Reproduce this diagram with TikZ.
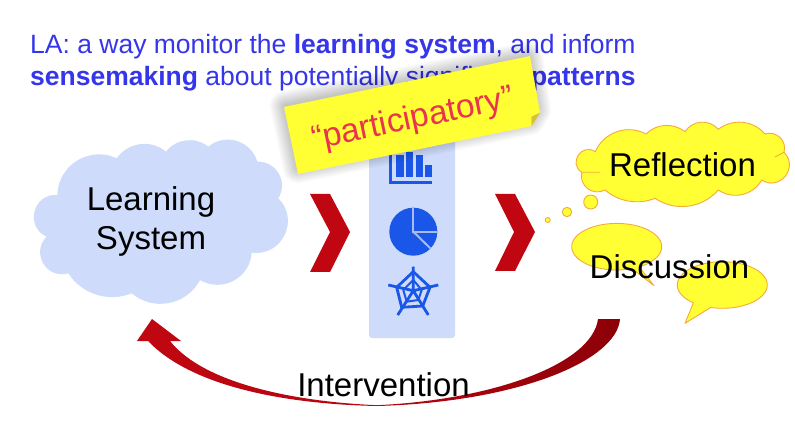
\documentclass[tikz,border=0pt]{standalone}
\usepackage{fontspec}
\setmainfont{Liberation Sans}
\definecolor{headblue}{HTML}{3535EA}
\definecolor{paleblue}{HTML}{CEDBFA}
\definecolor{iconblue}{HTML}{1A56E8}
\definecolor{gapblue}{HTML}{A9BBE6}
\definecolor{chevred}{HTML}{C00711}
\definecolor{darkred}{HTML}{8C0008}
\definecolor{noteyellow}{HTML}{FFFF33}
\definecolor{foldyellow}{HTML}{D8C22E}
\definecolor{notered}{HTML}{E8344F}
\definecolor{edgeorange}{HTML}{F6A93B}
\tikzset{
  chevron/.style={fill=chevred,draw=none},
  bubble/.style={fill=noteyellow,draw=edgeorange,line width=0.9pt,line join=round},
  crease/.style={draw=edgeorange,line width=0.9pt},
  lobe/.code={\pgfmathsetmacro\lobeang{2*atan(2*#1)}\pgfmathsetmacro\lobeloose{.851*(1+4*#1*#1)}\tikzset{bend left=\lobeang,looseness=\lobeloose}},
  bigtext/.style={font=\fontsize{33}{39}\selectfont,text=black,inner sep=0pt,align=center},
  headtext/.style={font=\fontsize{26.5}{32}\selectfont,text=headblue,inner sep=0pt,anchor=base west},
  iconfill/.style={fill=iconblue,draw=none},
  iconline/.style={draw=iconblue,line width=2.8pt,line join=round},
  piegap/.style={draw=gapblue,line width=2pt},
}
\begin{document}
\begin{tikzpicture}[x=1pt,y=-1pt]
\useasboundingbox (0,0) rectangle (795,446);
\fill[white] (0,0) rectangle (795,446);
% heading
\node[headtext] (headone) at (30,54) {LA: a way monitor the \textbf{learning system}, and inform};
\node[headtext] (headtwo) at (30,86) {\textbf{sensemaking} about potentially significant \textbf{patterns}};
% panel
\fill[paleblue,rounded corners=3pt] (369,125) rectangle (455,338);
% bar icon
\fill[iconfill] (389,150) rectangle (391.7,184.3);
\fill[iconfill] (389,181) rectangle (432.3,184.3);
\fill[iconfill] (396.3,154.7) rectangle (403.7,176.7);
\fill[iconfill] (406,151.7) rectangle (413.3,176.7);
\fill[iconfill] (415.7,154.7) rectangle (422.7,176.7);
\fill[iconfill] (425.3,165) rectangle (432.3,176.7);
% pie icon
\fill[iconfill] (413.3,231.7) circle[radius=24];
\draw[piegap] (413.3,207.7) -- (413.3,231.7) -- (437.3,231.7);
\draw[piegap] (413.3,231.7) -- (430.5,248.5);
% radar icon
\draw[iconline] (413.3,266.7) -- (413.3,290.7) (438.3,285) -- (413.3,290.7) (428.3,315) -- (413.3,290.7) (397.7,315) -- (413.3,290.7) (388.3,285) -- (413.3,290.7);
\draw[iconline] (413.3,271.7) -- (430,287.3) -- (422.7,306) -- (401.7,307.3) -- (396.7,287.3) -- cycle;
\draw[iconline,line width=2pt] (413.3,280) -- (421.7,290) -- (418.3,300) -- (406.7,301.7) -- (403.3,290) -- cycle;
% cloud
\fill[paleblue] (57.3,195) to[lobe=.27] (116.7,158.3) to[lobe=.22] (166,151.7) to[lobe=.21] (208.3,146.7) to[lobe=.27] (257.3,161.7) to[lobe=.3] (278.3,198.3) to[lobe=.36] (251.7,252.7) to[lobe=.28] (200,280) to[lobe=.24] (131.7,293.3) to[lobe=.18] (68.3,273.3) to[lobe=.39] (46.7,236.7) to[lobe=.42] cycle;
\node[bigtext] (learn) at (151,221) {Learning\\System};
% chevrons
\fill[chevron] (310,194) -- (330,194) -- (350,232) -- (330,272) -- (310,272) -- (330,232) -- cycle;
\fill[chevron] (495,194) -- (515,194) -- (535,232) -- (515,271) -- (495,271) -- (514,232) -- cycle;
% thought cloud
\draw[bubble] (595.3,151.7) to[lobe=.22] (646,134) to[lobe=.19] (685,131.7) to[lobe=.25] (718.3,129.3) to[lobe=.2] (765,134) to[lobe=.3] (784,152.3) to[lobe=.45] (761.7,180) to[lobe=.22] (718.3,190) to[lobe=.19] (655,198.3) to[lobe=.14] (605,190) to[lobe=.32] (581.7,172.3) to[lobe=.5] cycle;
\draw[crease] (581.7,172.3) -- (600,172.3) (784,152.3) -- (775,157);
\draw[bubble] (590.7,202) circle[radius=7];
\draw[bubble] (567,212) circle[radius=4.7];
\draw[bubble] (547.7,220) circle[radius=2.5];
\node[bigtext] (reflect) at (682.5,165) {Reflection};
% speech bubbles
\draw[bubble] plot[smooth,domain=70:420,samples=70] ({616.7+45*cos(\x)},{246.7+23.3*sin(\x)}) -- (654,285.7) -- cycle;
\draw[bubble] plot[smooth,domain=130:465,samples=70] ({722.3+45*cos(\x)},{285+23.3*sin(\x)}) -- (685,323.3) -- cycle;
\node[bigtext] (discuss) at (669.5,267) {Discussion};
% curved arrow
\shade[left color=chevred,right color=darkred,middle color=chevred!80!darkred]
  (620,319) .. controls (617,360) and (520,402) .. (377,406)
  .. controls (280,404) and (190,385) .. (148,341)
  -- (137,341) -- (152,319) -- (181,341) -- (170,341)
  .. controls (205,385) and (300,402) .. (377,405.2)
  .. controls (490,400) and (592,365) .. (598,319) -- cycle;
\node[bigtext,anchor=base] (interv) at (383.5,396) {Intervention};
% sticky note
\foreach \w in {30,27,...,3}{
  \begin{scope}[transparency group,opacity=.025]
    \draw[black,fill=black,line width=\w pt,line join=round]
      (285,106) -- (528,57) -- (536,110) -- (530,120) -- (298,168) -- cycle;
  \end{scope}
}
\fill[noteyellow] (284,107) -- (530,56) -- (540,112.7) -- (531.7,116.7) -- (531.7,126) -- (298,174) -- cycle;
\fill[foldyellow] (540,112.7) -- (531.7,116.7) -- (531.7,126) -- cycle;
\node[font=\fontsize{33.5}{40}\selectfont,text=notered,rotate=11.8,inner sep=0pt] (note) at (413,120) {“participatory”};
\end{tikzpicture}
\end{document}
